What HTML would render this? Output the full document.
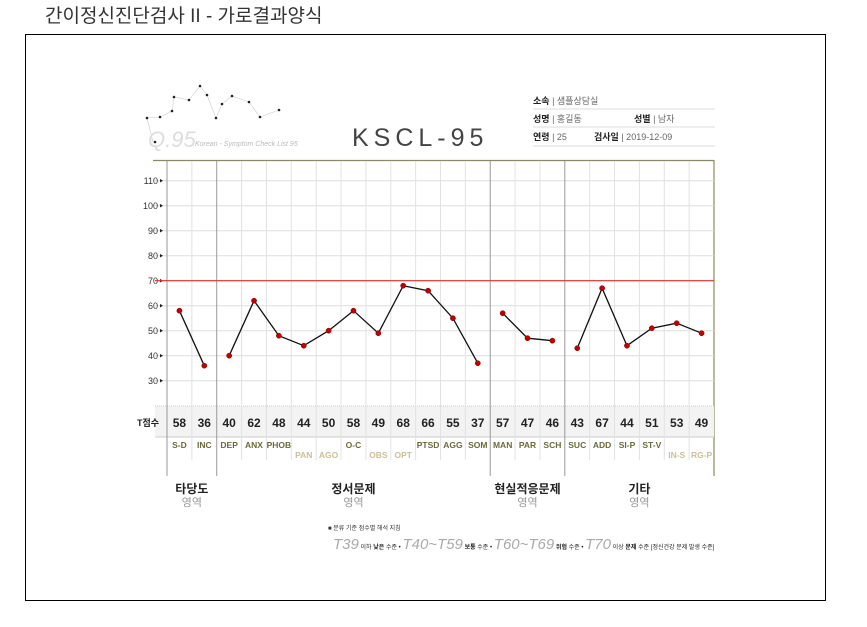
<!DOCTYPE html>
<html><head><meta charset="utf-8"><style>
body{margin:0;background:#fff;width:867px;height:622px;overflow:hidden;font-family:"Liberation Sans","Noto Sans CJK KR",sans-serif}
</style></head><body>
<svg width="867" height="622" xmlns="http://www.w3.org/2000/svg" style="font-family:'Liberation Sans','Noto Sans CJK KR',sans-serif">
<text x="45" y="22" font-size="19" fill="#333">간이정신진단검사 II - 가로결과양식</text>
<rect x="25.5" y="34.5" width="800" height="566" fill="none" stroke="#000"/>
<g id="logo"></g>
<text x="148" y="147" font-size="22" fill="#ddd" font-style="italic">Q.95</text>
<text x="195" y="146" font-size="7" fill="#bbb" font-style="italic">Korean - Symptom Check List 95</text>
<text x="352" y="146" font-size="25" fill="#444" letter-spacing="5">KSCL-95</text>
<g font-size="9" fill="#666">
<text x="533" y="104"><tspan font-weight="bold" fill="#222">소속</tspan> | 샘플상담실</text>
<line x1="533" y1="109" x2="715" y2="109" stroke="#ddd"/>
<text x="533" y="122"><tspan font-weight="bold" fill="#222">성명</tspan> | 홍길동</text>
<text x="634" y="122"><tspan font-weight="bold" fill="#222">성별</tspan> |  남자</text>
<line x1="533" y1="127" x2="715" y2="127" stroke="#ddd"/>
<text x="533" y="140"><tspan font-weight="bold" fill="#222">연령</tspan> | 25</text>
<text x="594" y="140"><tspan font-weight="bold" fill="#222">검사일</tspan> |  2019-12-09</text>
<line x1="533" y1="146" x2="715" y2="146" stroke="#ddd"/>
</g>
<g id="chart"></g>
</svg>
<script>
const categories=["S-D","INC","DEP","ANX","PHOB","PAN","AGO","O-C","OBS","OPT","PTSD","AGG","SOM","MAN","PAR","SCH","SUC","ADD","SI-P","ST-V","IN-S","RG-P"];
const scores=[58,36,40,62,48,44,50,58,49,68,66,55,37,57,47,46,43,67,44,51,53,49];
const lowLabel=[0,0,0,0,0,1,1,0,1,1,0,0,0,0,0,0,0,0,0,0,1,1];
const groupSizes=[2,11,3,6];
const groupNames=["타당도","정서문제","현실적응문제","기타"];
const yTicks=[30,40,50,60,70,80,90,100,110];
const cutoff=70;
const logoPts=[[147,118],[160,117],[172,111],[174,97],[189,100],[200,86],[207,95],[216,118],[222,104],[232,96],[249,102],[260,117],[279,110]];
(function(){
const NS='http://www.w3.org/2000/svg';
const g=document.getElementById('chart');
const X0=167,X1=714,CW=(X1-X0)/categories.length;
const xc=i=>X0+CW*(i+0.5);
const yy=v=>280.7-(v-70)*2.5;
function el(t,a,p){const e=document.createElementNS(NS,t);for(const k in a)e.setAttribute(k,a[k]);(p||g).appendChild(e);return e;}
const lg=document.getElementById('logo');
const lp=logoPts.map(p=>p.join(',')).join(' ');
el('polyline',{points:lp,fill:'none',stroke:'#ccc','stroke-width':0.6},lg);
el('line',{x1:147,y1:118,x2:153,y2:142,stroke:'#ccc','stroke-width':0.6},lg);
logoPts.forEach(p=>{el('circle',{cx:p[0],cy:p[1],r:1.3,fill:'#222'},lg);});
el('circle',{cx:155,cy:142,r:1.3,fill:'#222'},lg);
const topBorder=el('line',{x1:153,y1:160.5,x2:X1,y2:160.5,stroke:'#8a8a60','stroke-width':1.2});


el('line',{x1:X1,y1:160,x2:X1,y2:476,stroke:'#8a8a60','stroke-width':1.2});
yTicks.forEach(v=>{
 const l=el('line',{x1:155,y1:yy(v),x2:X1,y2:yy(v),stroke:'#ddd'});
 
 
 const t=el('text',{x:158,y:yy(v)+3.5,'font-size':9,fill:'#333','text-anchor':'end'});t.textContent=v;
 
 
 el('path',{d:`M160 ${yy(v)-1.8}L163 ${yy(v)}L160 ${yy(v)+1.8}Z`,fill:'#222'});
});
const bg=el('rect',{x:155,y:406,width:X1-155,height:31,fill:'#f3f3f3'});


el('line',{x1:155,y1:406,x2:X1,y2:406,stroke:'#ccc','stroke-dasharray':'1,1'});
el('line',{x1:155,y1:437,x2:X1,y2:437,stroke:'#ccc'});
const tl=el('text',{x:137,y:426,'font-size':9,'font-weight':'bold',fill:'#222'});tl.textContent='T점수';


const bounds=[0];groupSizes.reduce((a,s)=>{bounds.push(a+s);return a+s;},0);
for(let i=0;i<categories.length;i++){
 const x=X0+CW*i;const dark=bounds.includes(i);
 el('line',{x1:x,y1:161,x2:x,y2:dark?476:460,stroke:dark?'#999':'#e2e2e2'});
}
const cl=el('line',{x1:155,y1:yy(cutoff),x2:X1,y2:yy(cutoff),stroke:'#e03030','stroke-width':1.2});


let s=0;
groupSizes.forEach((n,gi)=>{
 const pts=[];for(let i=s;i<s+n;i++)pts.push(xc(i)+','+yy(scores[i]));
 const pl=el('polyline',{points:pts.join(' '),fill:'none',stroke:'#111','stroke-width':1.3});
 
 
 const cx=(X0+CW*s+X0+CW*(s+n))/2;
 const gt=el('text',{x:cx,y:493,'font-size':12,'font-weight':'bold',fill:'#222','text-anchor':'middle'});gt.textContent=groupNames[gi];
 
 
 const g2=el('text',{x:cx,y:506,'font-size':11,fill:'#999','text-anchor':'middle'});g2.textContent='영역';
 
 
 s+=n;
});
categories.forEach((c,i)=>{
 const p=el('circle',{cx:xc(i),cy:yy(scores[i]),r:2.6,fill:'#c00000',stroke:'#800','stroke-width':0.5});
 
 
 const v=el('text',{x:xc(i),y:427,'font-size':12,'font-weight':'bold',fill:'#222','text-anchor':'middle'});v.textContent=scores[i];
 
 
 const lb=el('text',{x:xc(i),y:lowLabel[i]?458:448,'font-size':8.5,'font-weight':'bold',fill:lowLabel[i]?'#cbbf98':'#6b6b3a','text-anchor':'middle'});lb.textContent=c;
 
 
});
const lg1=el('text',{x:328,y:530,'font-size':6,fill:'#333'});lg1.textContent='■ 분류 기준 점수별 해석 지침';


const lg2=el('text',{x:333,y:549,'font-size':6,fill:'#222'});


lg2.innerHTML='<tspan font-size="15" fill="#aaa" font-style="italic">T39</tspan> 이하 <tspan font-weight="bold">낮은</tspan> 수준 • <tspan font-size="15" fill="#aaa" font-style="italic">T40~T59</tspan> <tspan font-weight="bold">보통</tspan> 수준 • <tspan font-size="15" fill="#aaa" font-style="italic">T60~T69</tspan> <tspan font-weight="bold">위험</tspan> 수준 • <tspan font-size="15" fill="#aaa" font-style="italic">T70</tspan> 이상 <tspan font-weight="bold">문제</tspan> 수준 [정신건강 문제 발생 수준]';
})();
</script>
</body></html>
